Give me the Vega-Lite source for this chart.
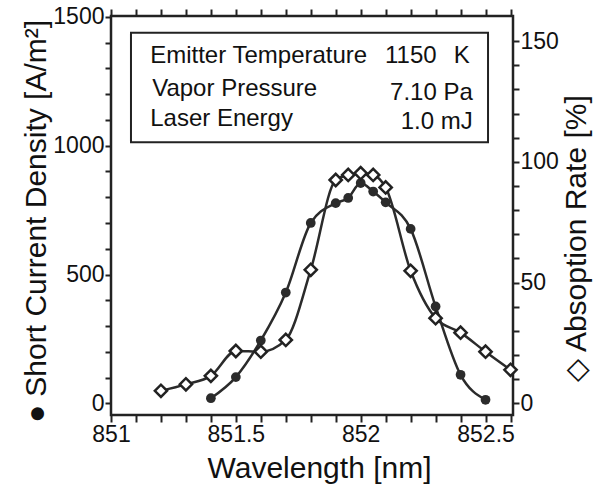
{
  "$schema": "https://vega.github.io/schema/vega-lite/v6.json",
  "width": 402,
  "height": 399,
  "autosize": {"type": "none"},
  "padding": {"left": 111, "top": 16, "right": 90, "bottom": 71},
  "background": "white",
  "config": {
    "view": {"stroke": "#222", "strokeWidth": 2.5},
    "font": "Liberation Sans",
    "axis": {
      "domain": false, "grid": false, "ticks": true, "tickColor": "#222", "tickWidth": 2,
      "labelColor": "#111", "titleColor": "#111",
      "labelFont": "Liberation Sans", "titleFont": "Liberation Sans",
      "labelFontSize": 23, "titleFontSize": 30, "titleFontWeight": "normal",
      "labelFlush": false, "labelOverlap": false
    }
  },
  "datasets": {
    "current": [
      {"wl": 851.4, "val": 20}, {"wl": 851.5, "val": 102}, {"wl": 851.6, "val": 244},
      {"wl": 851.7, "val": 430}, {"wl": 851.8, "val": 700}, {"wl": 851.9, "val": 777},
      {"wl": 851.95, "val": 797}, {"wl": 852.0, "val": 855}, {"wl": 852.05, "val": 822},
      {"wl": 852.1, "val": 780}, {"wl": 852.2, "val": 677}, {"wl": 852.3, "val": 376},
      {"wl": 852.4, "val": 111}, {"wl": 852.5, "val": 14}
    ],
    "absorption": [
      {"wl": 851.2, "rate": 5.2}, {"wl": 851.3, "rate": 7.9}, {"wl": 851.4, "rate": 11.4},
      {"wl": 851.5, "rate": 21.7}, {"wl": 851.6, "rate": 21.4}, {"wl": 851.7, "rate": 26.3},
      {"wl": 851.8, "rate": 55.3}, {"wl": 851.9, "rate": 92.5}, {"wl": 851.95, "rate": 94.6},
      {"wl": 852.0, "rate": 95.3}, {"wl": 852.05, "rate": 94.6}, {"wl": 852.1, "rate": 89.4},
      {"wl": 852.2, "rate": 54.9}, {"wl": 852.3, "rate": 35.3}, {"wl": 852.4, "rate": 29.3},
      {"wl": 852.5, "rate": 21.4}, {"wl": 852.6, "rate": 13.9}
    ],
    "box": [{"wl": 851.08, "wl2": 852.51, "val": 1438, "val2": 1013}],
    "textL": [
      {"wl": 851.157, "val": 1321, "label": "Emitter Temperature"},
      {"wl": 851.165, "val": 1193, "label": "Vapor Pressure"},
      {"wl": 851.157, "val": 1077, "label": "Laser Energy"}
    ],
    "textR": [
      {"wl": 852.304, "val": 1321, "label": "1150"},
      {"wl": 852.437, "val": 1321, "label": "K"},
      {"wl": 852.449, "val": 1178, "label": "7.10 Pa"},
      {"wl": 852.449, "val": 1066, "label": "1.0 mJ"}
    ]
  },
  "layer": [
    {
      "encoding": {
        "x": {
          "field": "wl", "type": "quantitative",
          "scale": {"domain": [851, 852.61], "nice": false, "zero": false},
          "axis": {
            "orient": "bottom",
            "values": [851, 851.1, 851.2, 851.3, 851.4, 851.5, 851.6, 851.7, 851.8, 851.9, 852, 852.1, 852.2, 852.3, 852.4, 852.5, 852.6],
            "format": "~g",
            "labelExpr": "abs(datum.value*2 - round(datum.value*2)) < 0.001 ? datum.label : ''",
            "tickSize": 7, "labelPadding": 1,
            "title": "Wavelength [nm]", "titleX": 208, "titleY": 62,
            "titleAlign": "center", "titleBaseline": "alphabetic"
          }
        },
        "y": {
          "field": "val", "type": "quantitative",
          "scale": {"domain": [-45, 1503], "nice": false, "zero": false},
          "axis": {
            "orient": "left",
            "values": [0, 100, 200, 300, 400, 500, 600, 700, 800, 900, 1000, 1100, 1200, 1300, 1400, 1500],
            "format": "d",
            "labelExpr": "datum.value % 500 === 0 ? datum.label : ''",
            "tickSize": 6, "labelPadding": 1,
            "title": "● Short Current Density [A/m²]",
            "titleAngle": 270, "titleX": -66, "titleY": 205,
            "titleAlign": "center", "titleBaseline": "alphabetic"
          }
        }
      },
      "layer": [
        {
          "data": {"name": "box"},
          "mark": {"type": "rect", "fill": null, "fillOpacity": 0, "stroke": "#222", "strokeWidth": 2},
          "encoding": {"x2": {"field": "wl2"}, "y2": {"field": "val2"}}
        },
        {
          "data": {"name": "textL"},
          "mark": {"type": "text", "align": "left", "baseline": "alphabetic", "fontSize": 24, "font": "Liberation Sans", "color": "#111"},
          "encoding": {"text": {"field": "label"}}
        },
        {
          "data": {"name": "textR"},
          "mark": {"type": "text", "align": "right", "baseline": "alphabetic", "fontSize": 24, "font": "Liberation Sans", "color": "#111"},
          "encoding": {"text": {"field": "label"}}
        },
        {
          "data": {"name": "current"},
          "mark": {"type": "line", "interpolate": "monotone", "color": "#2b2b2b", "strokeWidth": 2.5},
          "encoding": {}
        },
        {
          "data": {"name": "current"},
          "mark": {"type": "point", "shape": "circle", "filled": true, "color": "#2b2b2b", "opacity": 1, "size": 95},
          "encoding": {}
        }
      ]
    },
    {
      "data": {"name": "absorption"},
      "encoding": {
        "x": {
          "field": "wl", "type": "quantitative",
          "scale": {"domain": [851, 852.61], "nice": false, "zero": false},
          "axis": {
            "orient": "top",
            "values": [851, 851.1, 851.2, 851.3, 851.4, 851.5, 851.6, 851.7, 851.8, 851.9, 852, 852.1, 852.2, 852.3, 852.4, 852.5, 852.6],
            "labels": false, "tickSize": 7, "title": null
          }
        },
        "y": {
          "field": "rate", "type": "quantitative",
          "scale": {"domain": [-4.8, 160.4], "nice": false, "zero": false},
          "axis": {
            "orient": "right",
            "values": [0, 10, 20, 30, 40, 50, 60, 70, 80, 90, 100, 110, 120, 130, 140, 150],
            "format": "d",
            "labelExpr": "datum.value % 50 === 0 ? datum.label : ''",
            "tickSize": 6, "labelPadding": 1,
            "title": "◇ Absoption Rate [%]",
            "titleAngle": 270, "titleX": 72, "titleY": 222,
            "titleAlign": "center", "titleBaseline": "alphabetic"
          }
        }
      },
      "layer": [
        {
          "mark": {"type": "line", "interpolate": "monotone", "color": "#2b2b2b", "strokeWidth": 2.5}
        },
        {
          "mark": {"type": "point", "shape": "diamond", "filled": true, "fill": "white", "stroke": "#222", "strokeWidth": 2.5, "opacity": 1, "size": 150}
        }
      ]
    }
  ],
  "resolve": {"scale": {"y": "independent"}, "axis": {"x": "independent"}}
}
